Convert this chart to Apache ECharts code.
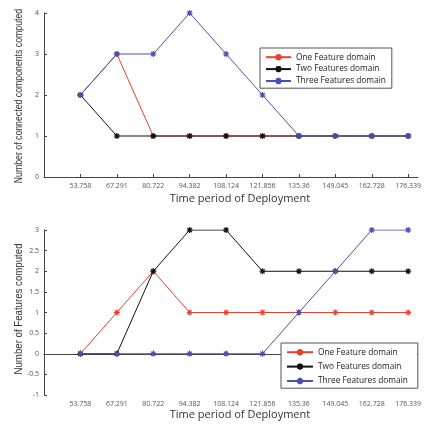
<!DOCTYPE html>
<html><head><meta charset="utf-8">
<script src="https://cdn.jsdelivr.net/npm/echarts@6/dist/echarts.min.js"></script>
<style>html,body{margin:0;padding:0;background:#fff}#c{width:425px;height:425px}</style>
</head><body><div id="c"></div><script>
const timeLabels = ['53.758','67.291','80.722','94.382','108.124','121.856','135.36','149.045','162.728','176.339'];
const seriesNames = ['One Feature domain','Two Features domain','Three Features domain'];
const seriesColors = ['#e8402f','#111111','#4a50b2'];
// top chart: connected components
const topOne   = [2,3,1,1,1,1,1,1,1,1];
const topTwo   = [2,1,1,1,1,1,1,1,1,1];
const topThree = [2,3,3,4,3,2,1,1,1,1];
// bottom chart: features
const botOne   = [0,1,2,1,1,1,1,1,1,1];
const botTwo   = [0,0,2,3,3,2,2,2,2,2];
const botThree = [0,0,0,0,0,0,1,2,3,3];
const topYTitle = 'Number of connected components computed';
const botYTitle = 'Number of Features computed';
const xTitle = 'Time period of Deployment';

const positions = timeLabels.map((_, i) => i + 1);
const star = 'path://M0,-5L0,5M-5,0L5,0M-3.6,-3.6L3.6,3.6M-3.6,3.6L3.6,-3.6';
const axisColor = '#444';
const tickFont = "'Open Sans', sans-serif";

function mkX(gi) {
  return {
    type: 'value', gridIndex: gi, min: 0, max: 10.27,
    axisLine: { lineStyle: { color: axisColor, width: 1 } },
    splitLine: { show: false },
    axisTick: { inside: true, length: 3, customValues: positions, lineStyle: { color: axisColor } },
    axisLabel: { customValues: positions, formatter: v => timeLabels[Math.round(v) - 1] || '', fontSize: 7, color: '#555', margin: 5, fontFamily: tickFont },
    name: xTitle, nameLocation: 'middle', nameGap: gi === 0 ? 16 : 14,
    nameTextStyle: { fontSize: 11, color: '#333', fontFamily: tickFont, padding: [0, 0, 0, 18] }
  };
}
function mkY(gi, min, max, interval) {
  return {
    type: 'value', gridIndex: gi, min: min, max: max, interval: interval,
    axisLine: { show: true, lineStyle: { color: axisColor, width: 1 } },
    splitLine: { show: false },
    axisTick: { show: true, inside: true, length: 3, lineStyle: { color: axisColor } },
    axisLabel: { fontSize: 7, color: '#555', margin: 5, fontFamily: tickFont }
  };
}
function mkYTitle(text, cx, cy, sx) {
  return {
    type: 'text', x: cx, y: cy, rotation: Math.PI / 2, scaleX: sx, silent: true,
    style: { text: text, fontSize: 11.5, fill: '#333', align: 'center', verticalAlign: 'middle',
      fontFamily: "'Liberation Sans', sans-serif" }
  };
}
function mkSeries(name, idx, values, gi) {
  const c = seriesColors[idx];
  return {
    type: 'line', name: name, xAxisIndex: gi, yAxisIndex: gi,
    data: values.map((v, i) => [positions[i], v]),
    symbol: star, symbolSize: 6, showSymbol: true,
    lineStyle: { color: c, width: 1 },
    itemStyle: { color: c, borderColor: c, borderWidth: 1.2 },
    emphasis: { disabled: true }, animation: false, z: 2 + idx
  };
}
function mkLegend(left, top, iw, ih, gap, pad, fs) {
  return {
    data: seriesNames, orient: 'vertical', left: left, top: top,
    itemWidth: iw, itemHeight: ih, itemGap: gap, padding: pad,
    borderColor: '#555', borderWidth: 1, backgroundColor: '#fff', borderRadius: 0,
    textStyle: { fontSize: fs, lineHeight: ih, color: '#222', fontFamily: tickFont }, selectedMode: false
  };
}
const chart = echarts.init(document.getElementById('c'), null, { renderer: 'canvas' });
chart.setOption({
  animation: false,
  backgroundColor: '#fff',
  grid: [
    { left: 44, right: 7, top: 13, height: 164, outerBoundsMode: 'none' },
    { left: 44, right: 7, top: 230, height: 165, outerBoundsMode: 'none' }
  ],
  xAxis: [mkX(0), mkX(1)],
  yAxis: [mkY(0, 0, 4, 1), mkY(1, -1, 3, 0.5)],
  legend: [
    mkLegend(260, 48, 25, 8, 3.5, [5, 6, 3, 5], 8.3),
    mkLegend(281, 343, 26, 8, 6, [5, 10, 3, 5], 8.3)
  ],
  graphic: [mkYTitle(topYTitle, 19, 96, 0.76), mkYTitle(botYTitle, 19, 309, 0.84)],
  series: [
    mkSeries(seriesNames[0], 0, topOne, 0),
    mkSeries(seriesNames[1], 1, topTwo, 0),
    mkSeries(seriesNames[2], 2, topThree, 0),
    mkSeries(seriesNames[0], 0, botOne, 1),
    mkSeries(seriesNames[1], 1, botTwo, 1),
    mkSeries(seriesNames[2], 2, botThree, 1)
  ]
});
</script></body></html>
